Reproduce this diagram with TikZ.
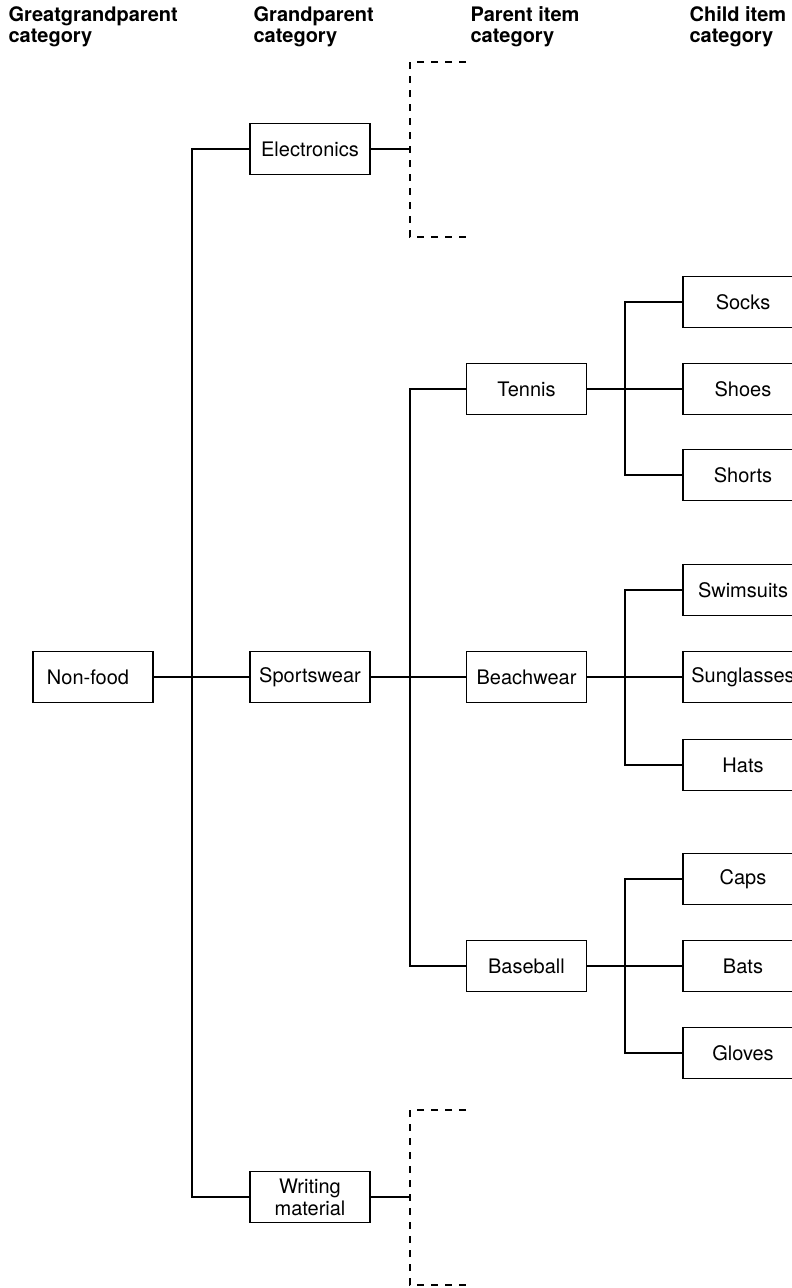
\documentclass[tikz,border=0pt]{standalone}
\usepackage{fontspec}
\setmainfont{TeX Gyre Heros}
\begin{document}
\begin{tikzpicture}[x=1pt,y=-1pt,
  line width=1.2pt,
  catbox/.style={draw, line width=1.2pt, minimum width=120pt, minimum height=51pt,
    inner sep=0pt, font=\fontsize{20}{22}\selectfont, align=center},
  head/.style={anchor=north west, inner sep=0pt, align=left,
    font=\fontsize{20}{21}\selectfont\bfseries},
  link/.style={line width=1.2pt},
  stub/.style={line width=1.2pt, dash pattern=on 7pt off 7pt}]
\useasboundingbox (0,0) rectangle (792,1288);
\clip (0,0) rectangle (792,1288);

% column headings
\node[head] (h1) at (8,6) {Greatgrandparent\\category};
\node[head] (h2) at (253,6) {Grandparent\\category};
\node[head] (h3) at (470,6) {Parent item\\category};
\node[head] (h4) at (689,6) {Child item\\category};

% great-grandparent and grandparent levels
\node[catbox] (nonfood) at (93,677) {Non-food\hspace*{10pt}};
\node[catbox] (elec) at (310,149) {Electronics};
\node[catbox] (sport) at (310,677) {Sportswear};
\node[catbox] (writ) at (310,1197) {Writing\\material};

% parent items
\node[catbox] (tennis) at (526.5,389) {Tennis};
\node[catbox] (beach) at (526.5,677) {Beachwear};
\node[catbox] (base) at (526.5,966) {Baseball};

% child items (boxes run past the right edge)
\node[catbox] (socks) at (743,302) {Socks};
\node[catbox] (shoes) at (743,389) {Shoes};
\node[catbox] (shorts) at (743,475) {Shorts};
\node[catbox] (swim) at (743,590) {Swimsuits};
\node[catbox] (sungl) at (743,677) {Sunglasses};
\node[catbox] (hats) at (743,765) {Hats};
\node[catbox] (caps) at (743,879) {Caps};
\node[catbox] (bats) at (743,966) {Bats};
\node[catbox] (gloves) at (743,1053) {Gloves};

% branch points
\coordinate (t1) at (192,677);
\coordinate (t2) at (410,677);
\coordinate (t3a) at (625,389);
\coordinate (t3b) at (625,677);
\coordinate (t3c) at (625,966);

% tree connectors
\draw[link] (nonfood.east) -- (sport.west);
\draw[link] (elec.west) -| (t1) |- (writ.west);
\draw[link] (sport.east) -- (beach.west);
\draw[link] (tennis.west) -| (t2) |- (base.west);
\draw[link] (tennis.east) -- (shoes.west);
\draw[link] (socks.west) -| (t3a) |- (shorts.west);
\draw[link] (beach.east) -- (sungl.west);
\draw[link] (swim.west) -| (t3b) |- (hats.west);
\draw[link] (base.east) -- (bats.west);
\draw[link] (caps.west) -| (t3c) |- (gloves.west);

% open (dashed) branches of Electronics and Writing material
\coordinate (e1) at (410,149);
\coordinate (ea) at (466,62);
\coordinate (eb) at (466,237);
\draw[link] (elec.east) -- (e1);
\draw[stub] (ea) -- (410,62) -- (410,237) -- (eb);

\coordinate (w1) at (410,1197);
\coordinate (wa) at (466,1110);
\coordinate (wb) at (466,1285);
\draw[link] (writ.east) -- (w1);
\draw[stub] (wa) -- (410,1110) -- (410,1285) -- (wb);
\end{tikzpicture}
\end{document}
